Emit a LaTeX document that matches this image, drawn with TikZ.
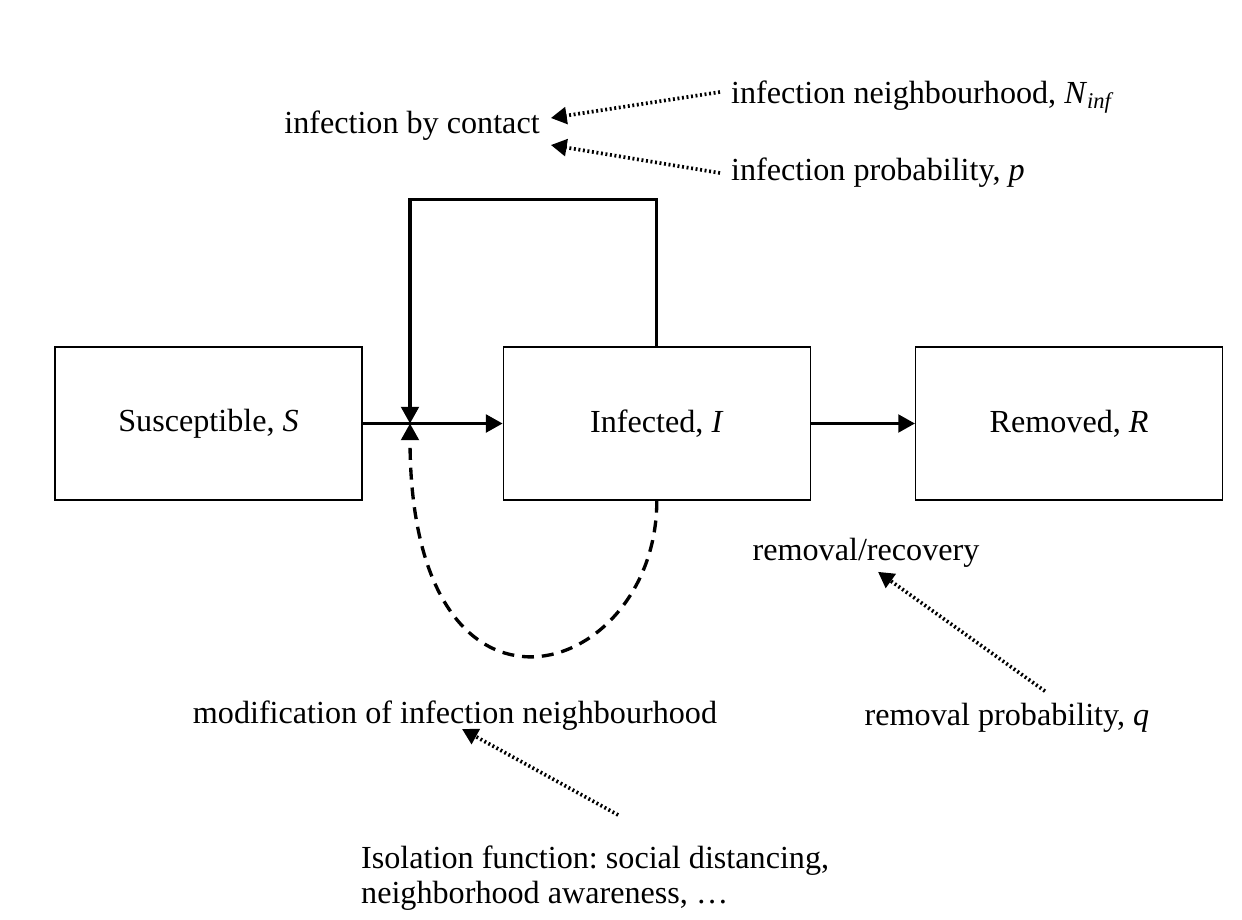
\documentclass[tikz,border=0pt]{standalone}
\usepackage{fontspec}
\setmainfont{Liberation Serif}
\frenchspacing
\usetikzlibrary{positioning}
\usetikzlibrary{arrows.meta}

\begin{document}
\begin{tikzpicture}[x=0.02cm,y=-0.02cm,
	font=\fontsize{18.3}{19.8}\selectfont,
	box/.style={draw,line width=0.8pt,minimum width=6.14cm,minimum height=3.06cm},
	flow/.style={line width=1.9pt,-{Triangle[length=9.5pt,width=10pt]}},
	infl/.style={line width=2.1pt,dash pattern=on 1.1pt off 1.5pt,-{Triangle[length=9pt,width=9.5pt]}}]
				\useasboundingbox (0,0) rectangle (1242,920);

				\node[box](sus) at (208.5,423.5) {Susceptible, \textit{S}};
				\node[box,right=2.80cm of sus](inf) {Infected, \textit{I}};
				\node[box,right=2.08cm of inf](rem) {Removed, \textit{R}};
				\coordinate (jn) at (410,423.5);

				\node(contact) at (412,126) {infection by contact};
				\node[anchor=west](ninf) at (725,97) {infection neighbourhood, \textit{N}\textsubscript{\textit{inf}}};
				\node[anchor=west](prob) at (725,173) {infection probability, \textit{p}};
				\node(rec) at (866,553) {removal/recovery};
				\node(remq) at (1007,718) {removal probability, \textit{q}};
				\node(mod) at (455,716) {modification of infection neighbourhood};
				\node[anchor=north west,align=left](iso) at (355,840) {Isolation function: social distancing,\\ neighborhood awareness, \dots};

				\draw[flow] (sus) -- (inf);
				\draw[flow] (inf) -- (rem);
				\draw[flow] (inf.north) -- ++(0,-147) -| (jn);
				\draw[flow,dash pattern=on 6.8pt off 4.5pt] (inf.south) .. controls +(0,180) and +(0,334) .. (jn);

				\draw[infl] ([shift={(-5,-5)}]ninf.west) -- ([shift={(5,-8)}]contact.east);
				\draw[infl] ([shift={(-5,0)}]prob.west) -- ([shift={(5,19)}]contact.east);
				\draw[infl] ([shift={(38,-6)}]remq.north) -- ([shift={(12,-2)}]rec.south);
				\draw[infl] ([shift={(23,-25)}]iso.north) -- ([shift={(7,-8)}]mod.south);

			\end{tikzpicture}
\end{document}
